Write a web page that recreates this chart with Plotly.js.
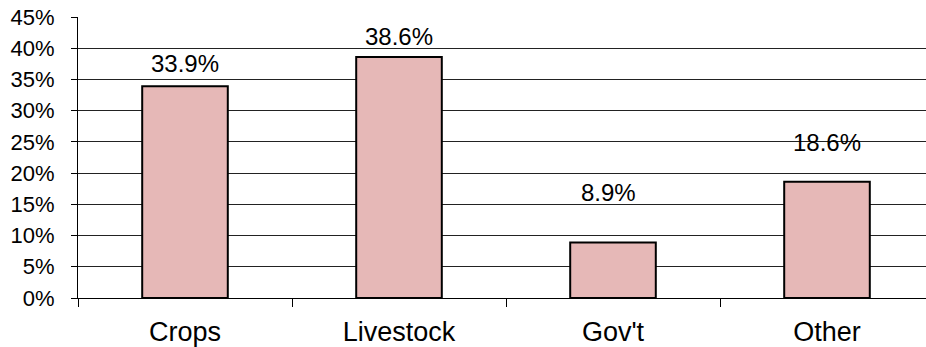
<!DOCTYPE html>
<html>
<head>
<meta charset="utf-8">
<script src="https://cdn.plot.ly/plotly-3.0.1.min.js"></script>
<style>html,body{margin:0;padding:0;background:#fff;}#chart{width:926px;height:347px;}</style>
</head>
<body>
<div id="chart"></div>
<script>
const categories = ["Crops", "Livestock", "Gov't", "Other"];
const shares = [33.9, 38.6, 8.9, 18.6];
const labels = ["33.9%", "38.6%", "8.9%", "18.6%"];
const yTickVals = [0, 5, 10, 15, 20, 25, 30, 35, 40, 45];
const yTickText = ["0%", "5%", "10%", "15%", "20%", "25%", "30%", "35%", "40%", "45%"];
const labelShift = [23, 20, 50, 39];
const labelXShift = [0, 0, -5, 0];

const font = "Liberation Sans, Arial, sans-serif";

const trace = {
  type: "bar",
  x: categories,
  y: shares,
  marker: {color: "#E6B8B7", line: {color: "#000000", width: 2}},
  hoverinfo: "none"
};

const annotations = categories.map((c, i) => ({
  x: c, y: shares[i], xref: "x", yref: "y",
  text: labels[i], showarrow: false,
  yanchor: "middle", xanchor: "center",
  yshift: labelShift[i], xshift: labelXShift[i],
  font: {family: font, size: 24, color: "#000"}
}));

const layout = {
  width: 926, height: 347,
  margin: {l: 78, r: 0, t: 17, b: 49},
  paper_bgcolor: "#fff", plot_bgcolor: "#fff",
  showlegend: false,
  bargap: 0.6,
  font: {family: font, color: "#000"},
  xaxis: {
    type: "category",
    range: [-0.5, 3.4626],
    tickson: "boundaries",
    ticks: "outside", ticklen: 8, tickcolor: "#000", tickwidth: 1,
    showline: true, linecolor: "#000", linewidth: 1,
    showgrid: false, zeroline: false,
    tickfont: {family: font, size: 27, color: "#000"},
    ticklabelstandoff: 10
  },
  yaxis: {
    range: [0, 45],
    tickvals: yTickVals, ticktext: yTickText,
    ticks: "outside", ticklen: 6, tickcolor: "#000",
    showline: true, linecolor: "#000", linewidth: 1,
    showgrid: true, gridcolor: "#222", gridwidth: 1,
    zeroline: false,
    tickfont: {family: font, size: 22, color: "#000"},
    ticklabelstandoff: 12
  },
  annotations: annotations
};

Plotly.newPlot("chart", [trace], layout, {staticPlot: true, displayModeBar: false});
</script>
</body>
</html>
